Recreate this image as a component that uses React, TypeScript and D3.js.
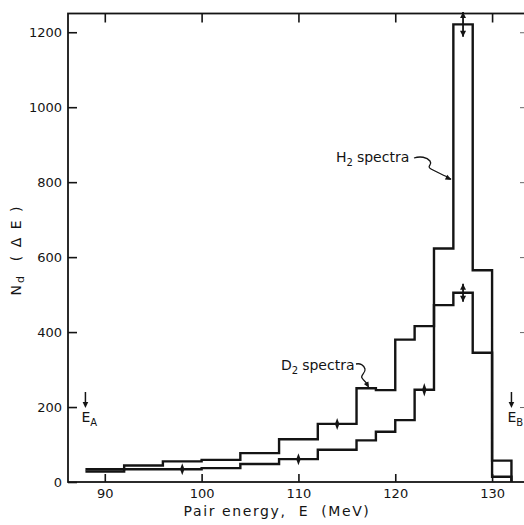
import React, { useRef, useEffect } from 'react'
import * as d3 from 'd3'

// bin edges (MeV) and counts per bin
const binEdges = [88, 92, 96, 100, 104, 108, 112, 116, 118, 120, 122, 124, 126, 128, 130, 132]
const h2Counts = [34, 44, 55, 59, 77, 114, 155, 250, 245, 380, 416, 623, 1221, 565, 57]
const d2Counts = [28, 34, 34, 37, 48, 61, 86, 111, 134, 165, 246, 472, 505, 345, 14]

// error markers: [series, energy, +/- error]
const diamondErrors: [string, number, number][] = [
  ['d2', 98, 16],
  ['d2', 110, 16],
  ['h2', 114, 16],
  ['d2', 123, 18],
]
const arrowErrors: [string, number, number][] = [
  ['h2', 127, 33],
  ['d2', 127, 24],
]

const xTicks = [90, 100, 110, 120, 130]
const yTicks = [0, 200, 400, 600, 800, 1000, 1200]
const energyLimits = [
  { e: 88, label: 'E', sub: 'A' },
  { e: 132, label: 'E', sub: 'B' },
]

const W = 524
const H = 525
const INK = '#141414'
const FONT = '"DejaVu Sans", "Liberation Sans", sans-serif'

export default function App() {
  const ref = useRef<SVGSVGElement>(null)

  useEffect(() => {
    const el = ref.current
    if (!el) return
    const svg = d3.select(el)
    svg.selectAll('*').remove()

    const left = 68, right = 525, top = 13.5, bottom = 482
    const x = d3.scaleLinear().domain([86.2, 133.4]).range([left, right])
    const y = d3.scaleLinear().domain([0, 1250]).range([bottom, top])

    svg.append('rect').attr('width', W).attr('height', H).attr('fill', '#fff')

    // frame
    svg.append('rect')
      .attr('x', left).attr('y', top)
      .attr('width', right - left).attr('height', bottom - top)
      .attr('fill', 'none').attr('stroke', INK).attr('stroke-width', 1.8)

    // axes (ticks inward)
    const yAxis = d3.axisLeft(y).tickValues(yTicks).tickSize(-9).tickPadding(6).tickFormat(d3.format('d'))
    const gy = svg.append('g').attr('transform', `translate(${left},0)`).call(yAxis)
    const xAxis = d3.axisBottom(x).tickValues(xTicks).tickSize(-8).tickPadding(7).tickFormat(d3.format('d'))
    const gx = svg.append('g').attr('transform', `translate(0,${bottom})`).call(xAxis)
    const xTop = d3.axisTop(x).tickValues(xTicks).tickSize(-9).tickFormat(() => '')
    const gt = svg.append('g').attr('transform', `translate(0,${top})`).call(xTop)
    const yRight = d3.axisRight(y).tickValues(yTicks.slice(1)).tickSize(-4).tickFormat(() => '')
    const gr = svg.append('g').attr('transform', `translate(${right - 1},0)`).call(yRight)
    for (const g of [gx, gy, gt, gr]) {
      g.select('.domain').remove()
      g.selectAll('line').attr('stroke', INK).attr('stroke-width', 1.6)
      g.selectAll('text').attr('fill', INK).attr('font-size', 13)
        .attr('font-family', FONT)
    }
    gr.selectAll('line').attr('stroke-width', 1).attr('stroke', '#666')

    // histograms
    const stepLine = d3.line<[number, number]>()
      .x(d => x(d[0])).y(d => y(d[1]))
      .curve(d3.curveStepAfter)
    const histPoints = (counts: number[]): [number, number][] => {
      const pts: [number, number][] = counts.map((c, i) => [binEdges[i], c])
      const last = binEdges[binEdges.length - 1]
      pts.push([last, counts[counts.length - 1]])
      pts.push([last, 0])
      return pts
    }
    const seriesCounts: Record<string, number[]> = { h2: h2Counts, d2: d2Counts }
    for (const key of ['h2', 'd2']) {
      svg.append('path')
        .attr('d', stepLine(histPoints(seriesCounts[key])))
        .attr('fill', 'none').attr('stroke', INK)
        .attr('stroke-width', 2.4).attr('stroke-linejoin', 'miter')
    }

    const valueAt = (key: string, e: number) => {
      const i = d3.bisectRight(binEdges, e) - 1
      return seriesCounts[key][i]
    }

    // diamond error markers
    diamondErrors.forEach(([key, e, err]) => {
      const v = valueAt(key, e)
      const cx = x(e), y0 = y(v + err), y1 = y(v - err), cy = y(v)
      svg.append('path')
        .attr('d', `M${cx},${y0}L${cx + 2.2},${cy}L${cx},${y1}L${cx - 2.2},${cy}Z`)
        .attr('fill', INK)
    })

    // double-arrow error bars
    arrowErrors.forEach(([key, e, err]) => {
      const v = valueAt(key, e)
      const cx = x(e), y0 = y(v + err), y1 = y(v - err)
      svg.append('line').attr('x1', cx).attr('x2', cx).attr('y1', y0).attr('y2', y1)
        .attr('stroke', INK).attr('stroke-width', 1.8)
      svg.append('path').attr('d', `M${cx},${y0}L${cx + 3},${y0 + 6}L${cx - 3},${y0 + 6}Z`).attr('fill', INK)
      svg.append('path').attr('d', `M${cx},${y1}L${cx + 3},${y1 - 6}L${cx - 3},${y1 - 6}Z`).attr('fill', INK)
    })

    // E_A / E_B markers
    energyLimits.forEach(({ e, label, sub }) => {
      const cx = x(e)
      const ay0 = 392, ay1 = 408
      svg.append('line').attr('x1', cx).attr('x2', cx).attr('y1', ay0).attr('y2', ay1 - 4)
        .attr('stroke', INK).attr('stroke-width', 1.5)
      svg.append('path').attr('d', `M${cx},${ay1}L${cx + 2.8},${ay1 - 6}L${cx - 2.8},${ay1 - 6}Z`).attr('fill', INK)
      const t = svg.append('text').attr('x', cx - 4).attr('y', 422)
        .attr('font-family', FONT).attr('font-size', 14).attr('fill', INK)
      t.append('tspan').text(label)
      t.append('tspan').attr('font-size', 10).attr('dy', 4).text(sub)
    })

    // annotations with wavy arrows
    const arrowHead = (px: number, py: number, angle: number) => {
      svg.append('path')
        .attr('d', 'M0,0L-6,-2.6L-6,2.6Z')
        .attr('transform', `translate(${px},${py}) rotate(${angle})`)
        .attr('fill', INK)
    }
    const label = (tx: number, ty: number, base: string) => {
      const t = svg.append('text').attr('x', tx).attr('y', ty)
        .attr('font-family', FONT).attr('font-size', 14).attr('fill', INK)
      t.append('tspan').text(base)
      t.append('tspan').attr('font-size', 10).attr('dy', 4).text('2')
      t.append('tspan').attr('dy', -4).attr('dx', 4).text('spectra')
    }
    label(336, 162, 'H')
    svg.append('path')
      .attr('d', 'M414,158 C420,156 427,157 430,161 C433,165 426,166 431,169 C436,172 444,175 451,179')
      .attr('fill', 'none').attr('stroke', INK).attr('stroke-width', 1.3)
    arrowHead(x(125.8), y(806), 28)

    label(281, 370, 'D')
    svg.append('path')
      .attr('d', 'M356,364 C360,363 364,365 365,369 C366,373 360,375 362,378 C364,381 366,382 368,385')
      .attr('fill', 'none').attr('stroke', INK).attr('stroke-width', 1.3)
    arrowHead(x(117.3), y(251), 60)

    // axis titles
    svg.append('text')
      .attr('x', 277).attr('y', 516).attr('text-anchor', 'middle')
      .attr('font-family', FONT).attr('font-size', 14).attr('fill', INK)
      .attr('letter-spacing', 1.6).style('white-space', 'pre')
      .text('Pair energy,  E  (MeV)')

    const yl = svg.append('text')
      .attr('transform', 'translate(21,250) rotate(-90)')
      .attr('text-anchor', 'middle')
      .attr('font-family', FONT).attr('font-size', 14).attr('fill', INK)
      .attr('letter-spacing', 2).style('white-space', 'pre')
    yl.append('tspan').text('N')
    yl.append('tspan').attr('font-size', 11).attr('dy', 3).text('d')
    yl.append('tspan').attr('dy', -3).text('  ( Δ E )')
  }, [])

  return (
    <svg ref={ref} width={W} height={H}
      style={{ position: 'absolute', left: 0, top: 0, display: 'block' }} />
  )
}
